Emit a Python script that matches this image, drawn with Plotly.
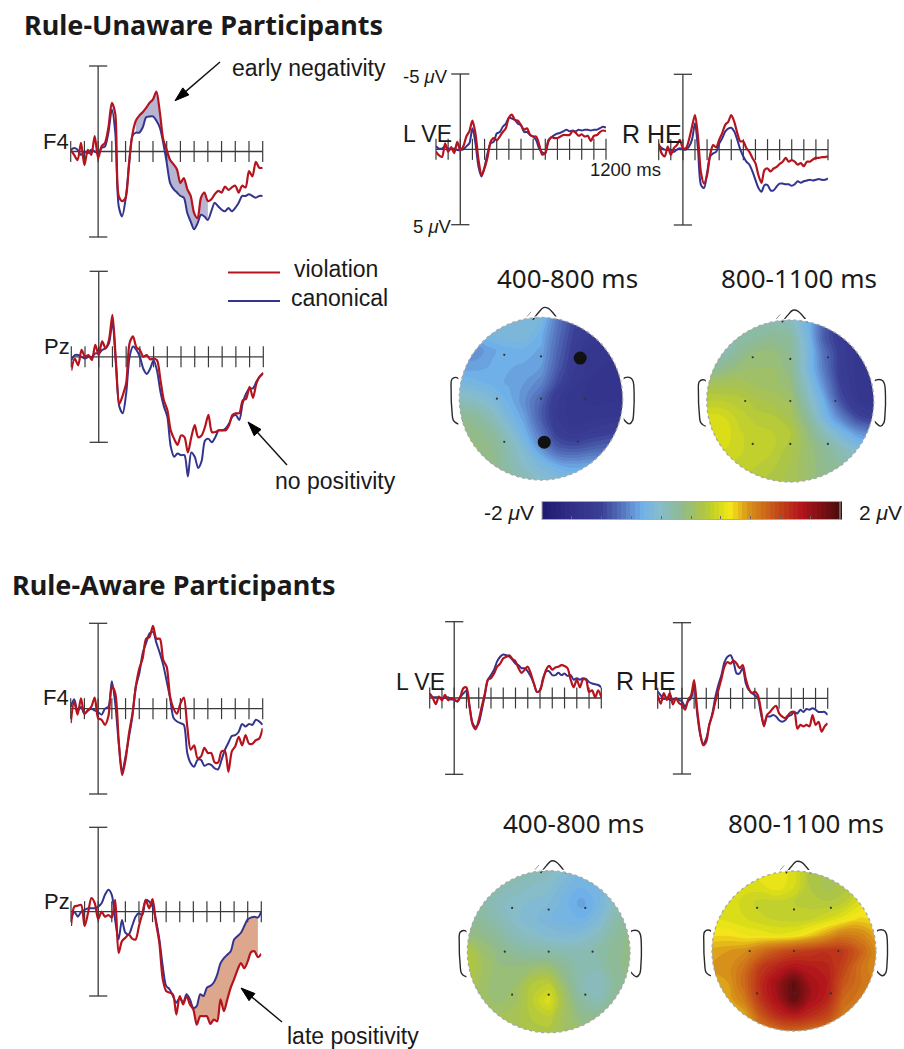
import plotly.graph_objects as go

W, H = 904, 1049
TIME = list(range(-200, 1201, 25))
TICKS = list(range(-200, 1201, 100))

# ---- ERP data (microvolts, negative plotted upward) ----
U_F4_V = [-.1,.2,.5,-.5,.8,-.1,.2,-.9,.4,-.3,-.5,-1.4,-2.85,-2.2,2.6,2.9,2.7,.7,-1,-1.8,-2.1,-2.3,-2.55,-2.85,-3.05,-3.5,-2.3,-.7,-.1,.5,.75,1.05,1.85,1.55,2.2,2.6,3.6,3.9,2.7,2.4,2.9,2.8,2.5,2.3,2.4,2.05,2.25,2.1,2.0,2.4,2.0,2.1,1.15,1.45,.6,.95,.95]
U_F4_C = [-.1,-.2,-.1,.2,0,.1,-.1,0,.1,-.2,-.3,-1.1,-2.45,-1.1,3.2,3.8,2.8,.85,-.9,-1.1,-1.1,-1.4,-2,-2.05,-2.05,-1.8,-1.4,-.5,.65,1.85,2.2,2.4,2.6,2.7,3.6,4.1,4.55,4.2,3.7,3.8,4,3.5,3,3.2,3.4,3.5,3.3,3.5,3.3,3,2.6,2.6,2.5,2.6,2.7,2.6,2.6]
U_PZ_V = [.8,.1,.5,-.4,0,-.1,.2,-.7,-.1,-.9,-.5,-1,-2.45,.2,2.75,2.25,1.55,-.8,-1.2,-.55,-.4,0,-.1,.15,.1,.2,1.35,2.55,3.1,4.3,4.8,5.15,4.6,4.7,5.6,4.7,4,4.7,4.6,4.1,3.4,4.4,4.4,4.3,4.3,4.3,4,3.4,3.3,3.3,2.55,2.45,1.75,2.4,1.55,1.15,.95]
U_PZ_C = [.2,-.1,-.1,0,.1,0,0,-.2,-.2,-.4,-.5,-.8,-2.05,.4,2.9,3.3,2.15,0,-.6,-.4,0,.7,1,.7,.2,.8,2.05,2.9,3.5,5.25,5.85,5.65,5.75,5.75,7,5.6,5.85,6.5,6.1,4.9,4.8,5,4.7,4.3,4.3,4.2,3.9,3.5,3.4,3.7,2.7,2.15,1.85,1.85,1.45,1.15,.95]
U_LVE_V = [.15,.4,.5,-.4,.15,-.15,.25,-.5,.05,-.2,-.85,-1.2,-1.9,-1.05,.7,1.7,1.25,.5,-.5,-.75,-.6,-.85,-1.15,-1.4,-2.1,-2.3,-1.95,-1.9,-1.6,-1.3,-1.4,-.95,-.85,-.85,-.3,.35,.25,-.5,-.8,-.75,-.75,-.85,-.95,-.95,-.95,-1.2,-1.1,-.9,-1,-.85,-.9,-.55,-.9,-.95,-1.15,-1.25,-1.2]
U_LVE_C = [-.2,-.05,-.05,-.2,-.05,0,-.05,.05,.05,0,-.2,-.4,-1.4,-.4,1.15,1.8,1.15,.25,-.4,-.5,-1.05,-1.15,-1.5,-1.7,-2.1,-2.05,-1.95,-1.7,-1.6,-1.15,-1.15,-.95,-.85,-.6,-.05,.2,.25,-.6,-.8,-.95,-1.05,-1.1,-1.2,-1.3,-1.2,-1.25,-1.2,-1.3,-1.25,-1.3,-1.3,-1.25,-1.3,-1.3,-1.4,-1.5,-1.45]
U_RHE_V = [-.4,.25,.45,-.2,.35,-.1,-.3,-.65,-.1,-.1,-.65,-1.5,-2.3,-.85,1.55,2.25,1.7,.35,-.3,-.15,-.65,-1.1,-1.65,-1.85,-2.3,-1.85,-1.1,-.55,-.55,-.1,.15,.55,.9,1.7,2.2,1.35,1.25,1.45,1.25,1.15,.95,.8,.55,.8,.7,.8,1,.9,1.1,.8,.8,.65,.55,.55,.5,.5,.45]
U_RHE_C = [-.3,-.1,0,.02,0,.15,0,-.1,0,0,-.2,-.65,-1.75,0,2.35,2.55,1.55,.45,.25,.15,-.4,-.75,-1.2,-1.4,-1.45,-1.2,-.65,0,.45,.8,1,1.45,2,2.55,2.8,2.35,2.35,2.7,2.7,2.45,2.25,2.25,2.3,2.3,2.4,2.3,2.1,2.2,2.1,2.05,2,2.05,2,1.95,2,2,1.9]
A_F4_V = [.85,-.4,.35,-.6,.3,.1,-.1,-.65,.55,.65,.95,.45,-1.3,-.9,1.85,3.9,3,1.45,.3,-1.3,-2.35,-2.95,-4.1,-4.2,-4.85,-4.1,-4.1,-2.85,-2.45,-.7,0,.3,-.3,-.65,1.05,2.4,2.15,2.9,2.8,2.3,2.6,2.6,3.15,3.15,2.5,2.5,3.7,2.5,2.2,1.65,2.15,1.55,2.05,2.05,1.85,1.75,1.15]
A_F4_C = [-.1,-.55,.1,-.1,.3,.1,0,.1,.2,.35,0,-.1,-1.6,-.3,2,3.7,2.8,1.65,.45,-1.3,-2.05,-3.25,-3.85,-4.4,-4.5,-3.85,-3.25,-2.55,-1.6,-.6,.55,.75,.85,.95,2.6,3.2,3.4,3,3,3.35,3.25,3.3,3.5,3.55,3,2.4,2,1.6,1.55,1.35,.9,1.05,.9,.95,.65,.75,.95]
A_PZ_V = [.85,-.3,-.35,-.4,.85,.1,-.8,-.5,.45,0,.3,.2,.35,-.7,2.45,1.75,1.55,1.35,1.6,1.65,.85,.1,-.7,-.2,-.75,.65,1.85,4,4.7,4.8,4.9,6.1,5,5.5,5,5.5,5.8,6.7,6.2,6.2,6.2,6.65,6.4,6.5,5.2,5.9,5.2,4.5,4,3.45,3.05,3.35,2.95,2.4,2.35,2.7,2.5]
A_PZ_C = [.45,0,.3,0,-.1,-.2,-.2,-.2,-.3,-.5,-1,-1.3,-1,.5,1.65,.5,1.25,1.35,.85,.3,.1,.2,-.7,-.6,-.3,.5,1.65,3.25,4.4,4.6,5,5.4,5.1,5.4,4.9,5.2,5.7,5.6,4.9,5,4.5,4.4,4.2,3.75,3.05,2.75,2.55,2.35,1.65,1.45,1.25,.85,.45,.35,.3,.35,0]
A_LVE_V = [-.3,0,.4,-.1,.15,-.2,.15,0,.1,.2,-.1,-.65,-.7,.55,1.75,2.05,1.45,.55,-.3,-1.2,-1.3,-1.6,-2.05,-2.25,-2.6,-2.7,-2.8,-2.55,-2.4,-1.95,-1.65,-1.85,-2.05,-1.6,-.95,-.4,-.5,-1.2,-1.85,-2.1,-1.85,-2,-2.05,-2.15,-2.1,-1.95,-1.2,-.7,-1.2,-.7,-1.2,-1.2,-.4,-.5,-.05,-.5,-.05]
A_LVE_C = [-.25,-.05,-.05,-.05,0,0,-.05,.1,.1,.25,-.05,-.3,-.5,.55,1.65,1.9,1.65,.8,-.2,-1.2,-1.5,-1.85,-2.4,-2.7,-2.85,-2.8,-2.7,-2.5,-2.25,-2.15,-1.95,-1.95,-1.75,-1.4,-.95,-.4,-.5,-1.3,-1.75,-1.75,-1.5,-1.5,-1.65,-1.5,-1.6,-1.45,-1.5,-1.2,-1.3,-1.2,-1.3,-1.25,-1.05,-.95,-.9,-.85,-.7]
A_RHE_V = [-.2,.35,-.35,.1,-.35,.4,0,.3,.45,.75,.1,-.2,-1.2,.75,2.3,3.1,2.85,1.75,1.1,.2,-.55,-1.3,-2.1,-2.4,-2.3,-2.5,-2.3,-2,-2.2,-1.3,-.65,-.35,-.45,-.2,.75,1.85,1.1,.9,.65,.5,1,1.2,1.3,1.1,.9,.9,2,1.75,1.85,1.75,1.85,1.1,1.75,1.55,2.2,1.85,1.65]
A_RHE_C = [-.45,-.2,.05,-.05,.1,.1,0,.1,.2,.55,.2,0,-.9,1,2.4,3,2.65,1.75,1,-.1,-.9,-1.55,-2.4,-2.75,-2.85,-2.4,-1.65,-1.65,-2,-1,-.55,-.35,-.2,0,1,1.75,1.2,1.2,1.1,1.2,1.45,1.55,1.45,1.2,1.1,.9,1,.75,.9,.7,.75,.65,.75,.9,.9,.9,1.1]

# ---- topographic maps (microvolts), rows top to bottom ----
GRID = [-1, -.8, -.6, -.4, -.2, 0, .2, .4, .6, .8, 1]
GRID_Y = [1, .8, .6, .4, .2, 0, -.2, -.4, -.6, -.8, -1]
MAP_U1 = [
 [-.5,-.5,-.5,-.5,-.5,-.55,-.9,-1.15,-1.25,-1.3,-1.3],
 [-.6,-.6,-.55,-.5,-.5,-.65,-.95,-1.2,-1.3,-1.35,-1.35],
 [-.8,-.8,-.7,-.65,-.65,-.7,-1.0,-1.25,-1.4,-1.4,-1.4],
 [-.72,-.72,-.68,-.68,-.7,-.75,-1.05,-1.3,-1.4,-1.45,-1.45],
 [-.55,-.6,-.65,-.7,-.75,-.85,-1.15,-1.35,-1.45,-1.45,-1.45],
 [-.35,-.4,-.5,-.65,-.8,-1.0,-1.3,-1.42,-1.45,-1.45,-1.45],
 [-.15,-.2,-.35,-.55,-.75,-1.05,-1.32,-1.42,-1.42,-1.4,-1.38],
 [-.05,-.1,-.2,-.4,-.65,-.95,-1.25,-1.35,-1.3,-1.25,-1.2],
 [0,-.05,-.12,-.28,-.5,-.8,-1.05,-1.1,-1.05,-1.0,-.95],
 [0,-.05,-.1,-.25,-.4,-.55,-.7,-.75,-.72,-.7,-.7],
 [0,-.05,-.1,-.2,-.3,-.4,-.45,-.5,-.5,-.5,-.5]]
MAP_U2 = [
 [-.3,-.3,-.3,-.3,-.3,-.35,-.6,-1.0,-1.3,-1.4,-1.4],
 [-.5,-.35,-.25,-.2,-.15,-.2,-.55,-1.05,-1.3,-1.4,-1.4],
 [-.55,-.3,-.15,-.05,-.05,-.15,-.5,-.95,-1.25,-1.4,-1.45],
 [-.2,-.1,-.02,0,0,-.1,-.5,-.9,-1.25,-1.4,-1.45],
 [.1,.1,.1,.05,.03,-.05,-.4,-.8,-1.2,-1.4,-1.45],
 [.25,.25,.22,.15,.1,.05,-.3,-.65,-1.1,-1.35,-1.45],
 [.4,.38,.28,.22,.2,.1,-.15,-.55,-.85,-1.15,-1.25],
 [.45,.42,.32,.28,.25,.2,-.05,-.3,-.55,-.75,-.85],
 [.4,.38,.32,.28,.25,.15,0,-.15,-.3,-.45,-.55],
 [.3,.3,.3,.25,.2,.12,0,-.12,-.2,-.3,-.35],
 [.2,.2,.2,.2,.15,.1,0,-.1,-.15,-.2,-.25]]
MAP_A1 = [
 [-.2,-.2,-.2,-.25,-.3,-.35,-.45,-.55,-.5,-.3,-.25],
 [-.25,-.25,-.28,-.32,-.38,-.42,-.55,-.62,-.58,-.35,-.25],
 [-.2,-.25,-.35,-.42,-.45,-.5,-.6,-.72,-.6,-.35,-.2],
 [-.15,-.2,-.3,-.42,-.48,-.55,-.6,-.62,-.5,-.28,-.15],
 [-.05,-.1,-.2,-.32,-.4,-.45,-.48,-.45,-.35,-.2,-.1],
 [.2,0,-.1,-.18,-.22,-.25,-.28,-.3,-.25,-.15,-.1],
 [.22,.05,-.05,-.05,-.02,0,-.15,-.3,-.3,-.15,-.1],
 [.15,.02,-.05,0,.2,.25,-.05,-.3,-.38,-.2,-.1],
 [.1,.02,-.02,.05,.25,.42,.05,-.2,-.3,-.15,-.1],
 [.1,.1,.08,.1,.2,.25,.05,-.1,-.12,-.1,-.05],
 [.1,.1,.1,.1,.15,.15,.05,0,-.05,-.05,-.05]]
MAP_A2 = [
 [.45,.45,.45,.48,.5,.4,.15,.12,.15,.35,.4],
 [.45,.45,.4,.42,.48,.38,.18,.1,.15,.3,.45],
 [.42,.42,.35,.28,.28,.25,.22,.2,.25,.42,.52],
 [.45,.42,.38,.33,.3,.28,.3,.38,.48,.58,.55],
 [.55,.55,.5,.48,.45,.48,.6,.75,.9,.85,.7],
 [.72,.75,.8,.95,1.1,1.2,1.25,1.3,1.25,1.05,.8],
 [.75,.78,.95,1.25,1.4,1.5,1.45,1.4,1.2,.95,.8],
 [.7,.75,1.0,1.35,1.6,1.9,1.55,1.45,1.1,.95,.85],
 [.65,.7,.9,1.3,1.55,1.9,1.55,1.4,1.0,.9,.85],
 [.6,.6,.7,1.1,1.35,1.45,1.35,1.2,.9,.85,.8],
 [.55,.55,.6,.85,.95,1.0,.95,.9,.85,.8,.75]]

ELECTRODE_X = [-.45, 0, .45, -.54, 0, .54, -.45, 0, .45]
ELECTRODE_Y = [.54, .52, .54, 0, 0, 0, -.53, -.53, -.53]
MARKED_X = [.48, .04]
MARKED_Y = [.5, -.535]
NOSE_X = [-.1, -.03, .03, .09, .21]
NOSE_Y = [.97, 1.06, 1.12, 1.11, .97]
NOSE_TICK_X = [-.18, -.12]
NOSE_TICK_Y = [1.0, 1.07]
EAR_R_X = [1.0, 1.03, 1.09, 1.125, 1.14, 1.135, 1.12, 1.08, 1.0]
EAR_R_Y = [.24, .26, .26, .22, .05, -.15, -.27, -.31, -.24]
EAR_L_X = [-.98, -1.03, -1.09, -1.1, -1.09, -1.07, -1.0, -.96]
EAR_L_Y = [.21, .26, .24, .1, -.15, -.27, -.31, -.27]

COLORSCALE = [
 [0, "#1f1a6e"], [.1, "#312f88"], [.2, "#3a3f95"], [.29, "#5f86cb"], [.335, "#6fb0e8"],
 [.39, "#86bcd0"], [.47, "#8fba90"], [.545, "#b0c640"], [.6, "#d8dc18"], [.63, "#f5e91b"],
 [.69, "#d8941a"], [.79, "#c34a1a"], [.87, "#b2151c"], [1, "#4a0c0c"]]

RED, BLUE = "#b5141f", "#33348e"
AXIS = "#3a3a3a"
SANS, HUM = "Liberation Sans", "Noto Sans"
Y_TOP, Y_BOTTOM = -5.6, 8

fig = go.Figure()
layout = {}
n_axis = [0]


def add_axes(x0, x1, ytop, ybot, xr, yr):
    n_axis[0] += 1
    n = n_axis[0]
    sfx = "" if n == 1 else str(n)
    layout["xaxis" + sfx] = dict(domain=[x0 / W, x1 / W], range=xr, visible=False, fixedrange=True,
                                 anchor="y" + sfx)
    layout["yaxis" + sfx] = dict(domain=[1 - ybot / H, 1 - ytop / H], range=yr, visible=False,
                                 fixedrange=True, anchor="x" + sfx)
    return "x" + sfx, "y" + sfx


def erp(x0, x1, ym5, yp5, violation, canonical, shade=None):
    assert len(violation) == len(TIME) == len(canonical)
    k = (yp5 - ym5) / 10
    y0 = (ym5 + yp5) / 2
    xa, ya = add_axes(x0, x1, y0 + Y_TOP * k, y0 + Y_BOTTOM * k, [-200, 1200], [Y_BOTTOM, Y_TOP])
    common = dict(xaxis=xa, yaxis=ya, cliponaxis=False, showlegend=False, hoverinfo="skip")
    if shade:
        i0, i1 = TIME.index(shade[0]), TIME.index(shade[1]) + 1
        xs = TIME[i0:i1] + TIME[i0:i1][::-1]
        ys = violation[i0:i1] + canonical[i0:i1][::-1]
        fig.add_trace(go.Scatter(x=xs, y=ys, mode="lines", line=dict(width=0), fill="toself",
                                 fillcolor=shade[2], **common))
    fig.add_trace(go.Scatter(x=[-200, 1200], y=[0, 0], mode="lines", line=dict(color=AXIS, width=1.3), **common))
    fig.add_trace(go.Scatter(x=TICKS, y=[0] * len(TICKS), mode="markers",
                             marker=dict(symbol="line-ns", size=15, line=dict(color=AXIS, width=1.2)), **common))
    fig.add_trace(go.Scatter(x=[0, 0], y=[-5, 5], mode="lines+markers", line=dict(color=AXIS, width=1.3),
                             marker=dict(symbol="line-ew", size=13, line=dict(color=AXIS, width=1.3)), **common))
    fig.add_trace(go.Scatter(x=TIME, y=canonical, mode="lines", line=dict(color=BLUE, width=2, shape="spline", smoothing=.8), **common))
    fig.add_trace(go.Scatter(x=TIME, y=violation, mode="lines", line=dict(color=RED, width=2.2, shape="spline", smoothing=.8), **common))


erp(70.7, 262.7, 66, 237, U_F4_V, U_F4_C, shade=(275, 800, "#b6b5d2"))
erp(71.3, 263.3, 271.3, 442.3, U_PZ_V, U_PZ_C)
erp(436, 606, 74, 224.7, U_LVE_V, U_LVE_C)
erp(658.7, 828, 74.3, 225, U_RHE_V, U_RHE_C)
erp(70.7, 262.7, 623.3, 794, A_F4_V, A_F4_C)
erp(71, 261.3, 827.3, 996, A_PZ_V, A_PZ_C, shade=(700, 1175, "#dda78d"))
erp(429.7, 601.3, 621.7, 774.3, A_LVE_V, A_LVE_C)
erp(657.7, 827.7, 622.7, 774, A_RHE_V, A_RHE_C)

shapes = []
K = .5523
CIRCLE = (f"M -1 0 C -1 {K} {-K} 1 0 1 C {K} 1 1 {K} 1 0 C 1 {-K} {K} -1 0 -1 C {-K} -1 -1 {-K} -1 0 Z ")
SQUARE = "M -1.012 -1.012 L 1.012 -1.012 L 1.012 1.012 L -1.012 1.012 Z"


def topo(cx, cy, rx, ry, z, marked=False, scale=False):
    R = 1.18
    xa, ya = add_axes(cx - R * rx, cx + R * rx, cy - R * ry, cy + R * ry, [-R, R], [-R, R])
    common = dict(xaxis=xa, yaxis=ya, showlegend=False, hoverinfo="skip", cliponaxis=False)
    cb = dict(orientation="h", lenmode="pixels", len=298, thicknessmode="pixels", thickness=18,
              x=542 / W, xanchor="left", y=1 - 513.2 / H, yanchor="middle", xpad=0, ypad=0,
              tickvals=[-1.6, -1.2, -.8, -.4, 0, .4, .8, 1.2, 1.6], ticks="inside", ticklen=4,
              tickcolor="#666", tickwidth=1, showticklabels=False, outlinecolor="#aaa", outlinewidth=1)
    fig.add_trace(go.Contour(x=GRID, y=GRID_Y, z=z, xaxis=xa, yaxis=ya, colorscale=COLORSCALE, zmin=-2, zmax=2,
                             autocontour=False, contours=dict(start=-2, end=2, size=.0625, coloring="fill", showlines=False),
                             line=dict(width=0, smoothing=1.3), showscale=scale, colorbar=cb if scale else None,
                             hoverinfo="skip"))
    fig.add_trace(go.Scatter(x=ELECTRODE_X, y=ELECTRODE_Y, mode="markers",
                             marker=dict(size=2.2, color="#333"), **common))
    if marked:
        fig.add_trace(go.Scatter(x=MARKED_X, y=MARKED_Y, mode="markers", marker=dict(size=13, color="#111"), **common))
    for ex, ey in ((NOSE_X, NOSE_Y), (EAR_R_X, EAR_R_Y), (EAR_L_X, EAR_L_Y)):
        fig.add_trace(go.Scatter(x=ex, y=ey, mode="lines", line=dict(color="#2a2a2a", width=1.4, shape="spline"), **common))
    fig.add_trace(go.Scatter(x=NOSE_TICK_X, y=NOSE_TICK_Y, mode="lines", line=dict(color="#999", width=1), **common))
    shapes.append(dict(type="path", path=CIRCLE + SQUARE, fillrule="evenodd", xref=xa, yref=ya,
                       fillcolor="white", line=dict(width=0), layer="above"))
    shapes.append(dict(type="circle", x0=-1, x1=1, y0=-1, y1=1, xref=xa, yref=ya,
                       line=dict(color="#a8a8a8", width=1.3, dash="dot"), layer="above"))


topo(541, 398.7, 81.7, 81.3, MAP_U1, marked=True, scale=True)
topo(790.3, 401, 83.5, 81, MAP_U2)
topo(548.7, 951.7, 81.3, 81, MAP_A1)
topo(794, 951, 82, 80, MAP_A2)

# callout arrows on a page-wide hidden axis pair
page_x, page_y = add_axes(0, W, 0, H, [0, W], [H, 0])


def arrow(tailx, taily, tipx, tipy):
    fig.add_trace(go.Scatter(x=[tailx, tipx], y=[taily, tipy], xaxis=page_x, yaxis=page_y, mode="lines+markers",
                             line=dict(color="#111", width=1.4), cliponaxis=False, showlegend=False, hoverinfo="skip",
                             marker=dict(symbol="arrow", size=[0, 15], angleref="previous", color="#000", opacity=1,
                                         line=dict(width=1, color="#000"))))


arrow(220, 62, 175, 100.7)
arrow(287, 465, 248, 422)
arrow(282, 1022, 241, 988)

# legend samples
shapes.append(dict(type="line", xref="paper", yref="paper", x0=228 / W, x1=280 / W, y0=1 - 272.5 / H, y1=1 - 272.5 / H,
                   line=dict(color=RED, width=1.8)))
shapes.append(dict(type="line", xref="paper", yref="paper", x0=228 / W, x1=280 / W, y0=1 - 301 / H, y1=1 - 301 / H,
                   line=dict(color=BLUE, width=1.8)))

anns = []


def txt(x, y, s, size, family=SANS, anchor="left", color="#1a1a1a"):
    anns.append(dict(xref="paper", yref="paper", x=(x - 2) / W, y=1 - y / H, text=s, showarrow=False, xanchor=anchor,
                     yanchor="middle", font=dict(family=family, size=size, color=color)))


MU = "<i>μ</i>V"
txt(24, 24.5, "<b>Rule-Unaware Participants</b>", 27, HUM)
txt(12, 584.5, "<b>Rule-Aware Participants</b>", 27, HUM)
txt(232, 68, "early negativity", 23)
txt(43, 141, "F4", 22)
txt(44, 346, "Pz", 22)
txt(43, 697, "F4", 22)
txt(44, 901, "Pz", 22)
txt(403, 134, "L VE", 23)
txt(622, 134, "R HE", 25)
txt(396, 682, "L VE", 23)
txt(616, 681, "R HE", 25)
txt(403, 76, "-5 " + MU, 18.5)
txt(413, 226, "5 " + MU, 18.5)
txt(590, 170, "1200 ms", 18.5)
txt(294, 269, "violation", 23)
txt(291, 298, "canonical", 23)
txt(275, 481, "no positivity", 23)
txt(287, 1036, "late positivity", 23)
txt(484, 512, "-2 " + MU, 21)
txt(859, 512, "2 " + MU, 21)
txt(497, 278, "400-800 ms", 26, HUM)
txt(721, 278, "800-1100 ms", 26, HUM)
txt(503, 823, "400-800 ms", 26, HUM)
txt(728, 823, "800-1100 ms", 26, HUM)

fig.update_layout(width=W, height=H, margin=dict(l=0, r=0, t=0, b=0, autoexpand=False), paper_bgcolor="white",
                  plot_bgcolor="rgba(0,0,0,0)", showlegend=False, shapes=shapes, annotations=anns, **layout)
fig.write_html("out.html", config=dict(displayModeBar=False),
               post_script="document.body.style.margin='0';document.documentElement.style.overflow='hidden';")
